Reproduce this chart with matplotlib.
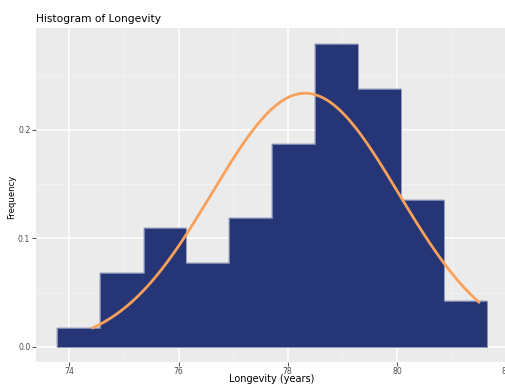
import numpy as np
import matplotlib
matplotlib.use("Agg")
import matplotlib.pyplot as plt
from matplotlib.ticker import MultipleLocator

# Histogram bins (years) and density heights
bin_edges = [73.78, 74.57, 75.36, 76.14, 76.93, 77.72, 78.50, 79.29, 80.07, 80.86, 81.65]
densities = [0.0170, 0.0677, 0.1098, 0.0770, 0.1184, 0.1867, 0.2795, 0.2374, 0.1353, 0.0424]

# Fitted normal curve parameters
fit_mean = 78.32
fit_sd = 1.706
curve_start = 74.41
curve_end = 81.52

x_ticks = [74, 76, 78, 80, 82]
y_ticks = [0.0, 0.1, 0.2]

fig = plt.figure(figsize=(5.05, 3.85), dpi=100)
ax = fig.add_axes([36 / 505, 23 / 385, 472.3 / 505, 334 / 385])
ax.set_facecolor("#EBEBEB")

# Bars (no internal borders, like the reference)
lefts = np.array(bin_edges[:-1])
widths = np.diff(bin_edges)
ax.bar(lefts, densities, width=widths, align="edge", color="#253575",
       edgecolor="#253575", linewidth=0.3, zorder=3)
# faint light outline around the whole histogram
outline = "#8C93B5"
ax.stairs(densities, bin_edges, color=outline, linewidth=0.6, zorder=3.5)
ax.plot([bin_edges[0], bin_edges[0]], [0, densities[0]], color=outline, linewidth=0.6, zorder=3.5)
ax.plot([bin_edges[-1], bin_edges[-1]], [0, densities[-1]], color=outline, linewidth=0.6, zorder=3.5)
ax.plot([bin_edges[0], bin_edges[-1]], [0, 0], color=outline, linewidth=0.6, zorder=3.5)

# Normal density curve
xs = np.linspace(curve_start, curve_end, 200)
ys = np.exp(-0.5 * ((xs - fit_mean) / fit_sd) ** 2) / (fit_sd * np.sqrt(2 * np.pi))
ax.plot(xs, ys, color="#F9A15A", linewidth=2.0, zorder=4, solid_capstyle="butt")

ax.set_xlim(73.39, 82.04)
ax.set_ylim(-0.0141, 0.294)
ax.set_xticks(x_ticks)
ax.set_yticks(y_ticks)
ax.set_xticklabels([str(t) for t in x_ticks])
ax.set_yticklabels(["0.0", "0.1", "0.2"])
ax.xaxis.set_minor_locator(MultipleLocator(1))
ax.yaxis.set_minor_locator(MultipleLocator(0.05))

ax.grid(which="major", color="white", linewidth=1.1, zorder=0)
ax.grid(which="minor", color="#F5F5F5", linewidth=0.55, zorder=0)
ax.set_axisbelow(True)
for s in ax.spines.values():
    s.set_visible(False)

ax.tick_params(axis="both", which="major", length=2.8, width=0.6, color="#333333",
               labelsize=5.6, labelcolor="#4D4D4D")
ax.tick_params(axis="x", which="major", pad=0.8)
ax.tick_params(axis="y", which="major", pad=1.3)
ax.tick_params(axis="both", which="minor", length=0)

ax.set_xlabel("Longevity (years)", fontsize=7.0, color="black")
ax.xaxis.label.set_va("baseline")
ax.xaxis.set_label_coords(0.5, -(382.5 - 362) / 334)
ax.set_ylabel("Frequency", fontsize=6.1, color="black")
ax.yaxis.label.set_va("center")
ax.yaxis.set_label_coords((11.7 - 36) / 472.3, 0.495)

fig.text(36 / 505, 1 - 22 / 385, "Histogram of Longevity", fontsize=7.7,
         color="black", va="baseline", ha="left")

fig.savefig("out.png", dpi=100)
